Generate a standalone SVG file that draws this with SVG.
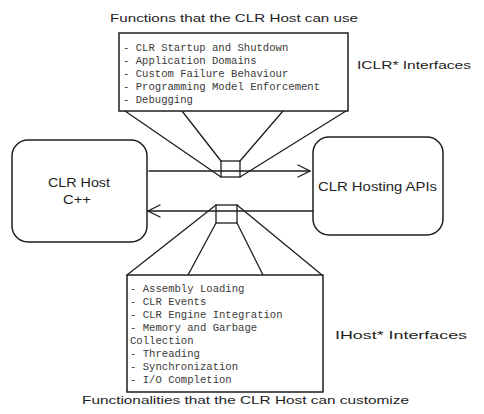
<svg xmlns="http://www.w3.org/2000/svg" width="484" height="414" viewBox="0 0 484 414">
<defs>
<style>
.box{fill:#fff;stroke:#1e1e1e;stroke-width:1.5}
.ln{fill:none;stroke:#1e1e1e;stroke-width:1.3;stroke-linecap:round;stroke-linejoin:round}
.hand{font-family:"Liberation Sans",Arial,sans-serif;font-size:11.5px;fill:#1e1e1e}
.node{font-family:"Liberation Sans",Arial,sans-serif;font-size:13px;fill:#1e1e1e}
.mono{font-family:"Liberation Mono","DejaVu Sans Mono",monospace;font-size:10.6px;fill:#3a3a3a}
</style>
<marker id="ah" viewBox="0 0 14 14" refX="13" refY="7" markerWidth="14" markerHeight="14" markerUnits="userSpaceOnUse" orient="auto">
<path d="M1,1 L13,7 L1,13" fill="none" stroke="#1e1e1e" stroke-width="1.3" stroke-linecap="round"/>
</marker>
</defs>
<rect width="484" height="414" fill="#fff"/>

<g id="connectors">
<line class="ln" x1="149" y1="171" x2="310" y2="171" marker-end="url(#ah)" stroke-width="1.6"/>
<line class="ln" x1="314" y1="211" x2="148" y2="211" marker-end="url(#ah)" stroke-width="1.6"/>
<!-- top frustum -->
<line class="ln" x1="125" y1="111" x2="221" y2="177"/>
<line class="ln" x1="182" y1="111" x2="221" y2="161"/>
<line class="ln" x1="283" y1="111" x2="240" y2="161"/>
<line class="ln" x1="346" y1="111" x2="240" y2="177"/>
<!-- bottom frustum -->
<line class="ln" x1="216" y1="205" x2="127" y2="275"/>
<line class="ln" x1="216" y1="223" x2="188" y2="275"/>
<line class="ln" x1="237" y1="223" x2="263" y2="275"/>
<line class="ln" x1="237" y1="205" x2="322" y2="275"/>
</g>

<g id="iclr-small">
<rect x="221" y="161" width="19" height="16" fill="none" stroke="#1e1e1e" stroke-width="1.3"/>
</g>
<g id="ihost-small">
<rect x="216" y="205" width="21" height="18" fill="none" stroke="#1e1e1e" stroke-width="1.3"/>
</g>

<g id="clr-host">
<rect class="box" x="12" y="140" width="135" height="102" rx="16"/>
<text class="node" x="48" y="187" textLength="62" lengthAdjust="spacingAndGlyphs">CLR Host</text>
<text class="node" x="63" y="204" textLength="28" lengthAdjust="spacingAndGlyphs">C++</text>
</g>

<g id="clr-hosting-apis">
<rect class="box" x="313" y="137" width="130" height="98" rx="16"/>
<text class="node" x="318" y="191" textLength="119" lengthAdjust="spacingAndGlyphs">CLR Hosting APIs</text>
</g>

<g id="iclr-box">
<rect class="box" x="119" y="33" width="229" height="78"/>
<text class="mono" x="123" y="51">- CLR Startup and Shutdown</text>
<text class="mono" x="123" y="64">- Application Domains</text>
<text class="mono" x="123" y="77">- Custom Failure Behaviour</text>
<text class="mono" x="123" y="90">- Programming Model Enforcement</text>
<text class="mono" x="123" y="103">- Debugging</text>
</g>

<g id="ihost-box">
<rect class="box" x="127" y="275" width="196" height="117"/>
<text class="mono" x="130" y="292">- Assembly Loading</text>
<text class="mono" x="130" y="305">- CLR Events</text>
<text class="mono" x="130" y="318">- CLR Engine Integration</text>
<text class="mono" x="130" y="331">- Memory and Garbage</text>
<text class="mono" x="130" y="344">Collection</text>
<text class="mono" x="130" y="357">- Threading</text>
<text class="mono" x="130" y="370">- Synchronization</text>
<text class="mono" x="130" y="383">- I/O Completion</text>
</g>

<g id="labels">
<text class="hand" x="110" y="22" textLength="248" lengthAdjust="spacingAndGlyphs">Functions that the CLR Host can use</text>
<text class="hand" x="357" y="69" textLength="114" lengthAdjust="spacingAndGlyphs">ICLR* Interfaces</text>
<text class="hand" x="335" y="339" textLength="132" lengthAdjust="spacingAndGlyphs">IHost* Interfaces</text>
<text class="hand" x="82" y="404" textLength="327" lengthAdjust="spacingAndGlyphs">Functionalities that the CLR Host can customize</text>
</g>
</svg>
